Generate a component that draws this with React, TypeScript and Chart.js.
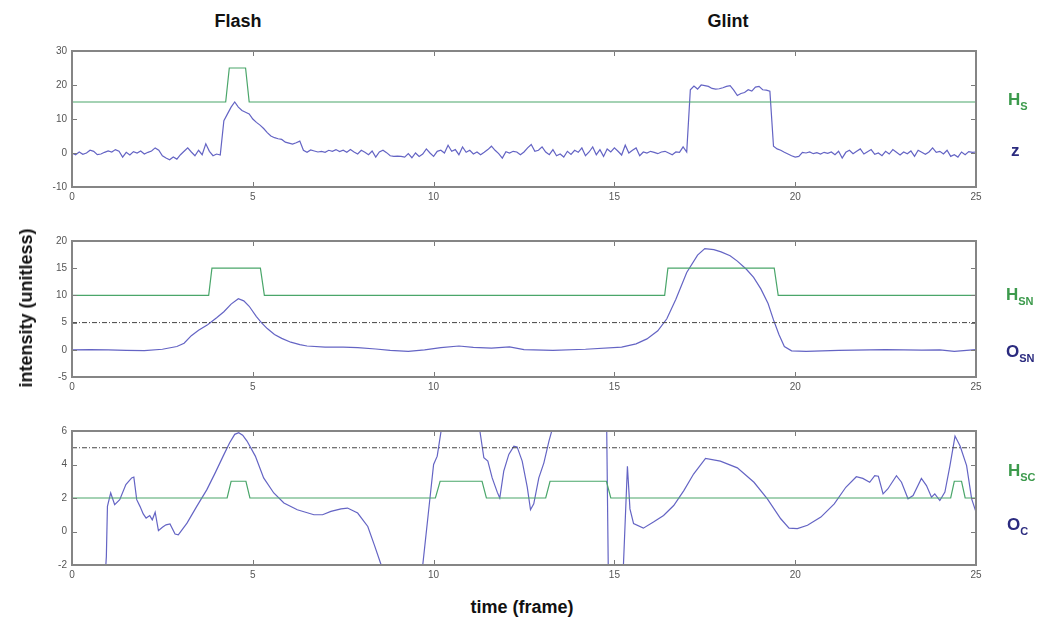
import React, { useEffect, useRef } from 'react';
import { Chart, registerables } from 'chart.js';

Chart.register(...registerables);

// ---------- data ----------
const X_MIN = 0;
const X_MAX = 25;
const X_STEP = 5;

// panel 1: z sampled every 0.1 frame from 0 to 25
const zStep = 0.1;
const zValues: number[] = [
  0, -0.5, 0.3, -0.4, 0, 0.8, 0.5, -0.5, -0.3, 0.2,
  0.6, 0.3, 1.0, 0.5, -1.2, 0.2, -0.6, 0.4, 0.0, 0.6,
  -0.3, 0.2, 0.6, 1.5, 0.8, -0.8, -1.5, -2.0, -1.2, -1.8,
  -0.5, 0.5, 1.5, 0.3, -0.8, 0.8, -0.5, 2.7, 0.5, -0.8,
  -0.3, -0.6, 9.5, 11.5, 13.5, 15.0, 13.5, 12.5, 12.0, 11.5,
  10.0, 9.0, 8.2, 7.2, 6.0, 5.0, 4.5, 4.2, 4.0, 3.2,
  2.9, 2.6, 3.0, 3.5, 0.8, 0.2, 0.9, 0.6, 0.3, 0.5,
  0.2, 0.8, 0.5, 1.0, 0.4, 0.8, 0.2, 1.0, 0.3, -0.3,
  0.8, 0.2, -0.5, 0.6, -1.2, 0.3, 0.8, 0.1, -0.8, -1.0,
  -0.9, -1.0, -1.2, -0.2, -1.4, 0.0, -1.0, -0.3, 1.2, 0.0,
  -1.0, 0.5, 0.8, 0.0, 2.3, 0.5, 1.0, -0.5, 1.8, 0.2,
  0.8, -0.3, 0.3, -0.5, 0.2, 1.0, 2.0, 0.8, -0.2, -1.5,
  0.4, 0.0, 0.5, 0.3, -0.5, 0.3, 1.5, 2.5, 0.5, 0.8,
  1.8, 0.3, -0.5, 1.0, -0.8, -0.3, -1.2, 0.5, -0.4, 0.8,
  0.2, 1.5, -0.8, 0.3, 1.8, -0.5, 1.0, -1.0, 1.2, 0.3,
  1.5, 0.5, -0.6, 2.3, 0.0, 0.8, 1.5, -0.8, 0.3, 0.0,
  0.5, 0.2, -0.2, 0.3, 0.5, 0.0, -0.5, 0.3, 0.2, 1.8,
  0.3, 18.6, 19.7, 18.8, 20.0, 19.8, 19.6, 19.0, 18.8, 18.9,
  19.2, 19.6, 19.8, 18.5, 16.9, 17.5, 17.8, 18.6, 18.2, 19.4,
  19.6, 18.6, 18.5, 18.2, 2.0, 1.2, 0.8, 0.2, -0.3, -0.8,
  -1.2, -1.0, 0.2, 0.0, 0.3, -0.2, 0.1, -0.3, 0.2, -0.1,
  0.3, -0.5, 0.5, -1.5, 0.2, 0.8, -0.2, 0.5, 1.2, -0.3,
  0.4, 1.0, -0.4, 0.0, -0.8, 0.5, -0.3, 1.0, 0.2, -0.6,
  0.3, -0.2, 0.6, -1.0, 0.8, 0.2, -0.4, 0.3, 1.5, 0.2,
  0.5, -0.3, 0.8, -1.0, -0.5, -1.2, 0.3, -0.5, 0.4, 0.2,
  0.3,
];

const hS: [number, number][] = [
  [0, 15], [4.25, 15], [4.35, 25], [4.8, 25], [4.9, 15], [25, 15],
];

// panel 2
const hSN: [number, number][] = [
  [0, 10], [3.78, 10], [3.87, 15], [5.21, 15], [5.32, 10],
  [16.39, 10], [16.48, 15], [19.42, 15], [19.53, 10], [25, 10],
];
const thresholdSN: [number, number][] = [[0, 5], [25, 5]];
const oSN: [number, number][] = [
  [0, 0], [0.5, 0.05], [1.0, 0], [1.5, -0.1], [2.0, -0.15], [2.5, 0.1], [2.9, 0.6],
  [3.1, 1.2], [3.3, 2.6], [3.5, 3.6], [3.75, 4.6], [4.0, 5.9], [4.2, 7.0], [4.4, 8.4],
  [4.6, 9.4], [4.75, 9.0], [4.9, 8.0], [5.1, 6.1], [5.25, 4.9], [5.4, 3.9], [5.6, 2.8],
  [5.8, 2.1], [6.05, 1.4], [6.3, 0.95], [6.5, 0.7], [7.0, 0.5], [7.5, 0.5], [7.9, 0.4],
  [8.4, 0.15], [8.8, -0.1], [9.3, -0.3], [9.75, 0], [10.2, 0.4], [10.7, 0.7], [11.1, 0.45],
  [11.6, 0.3], [12.1, 0.55], [12.5, 0.05], [13.3, -0.1], [14.2, 0.1], [15.2, 0.5],
  [15.6, 1.1], [15.9, 2.0], [16.2, 3.5], [16.45, 5.7], [16.7, 9.3], [17.0, 14.2],
  [17.3, 17.4], [17.5, 18.6], [17.75, 18.4], [17.95, 18.0], [18.2, 17.3], [18.4, 16.3],
  [18.65, 14.8], [18.85, 13.3], [19.05, 11.2], [19.25, 8.5], [19.4, 5.5], [19.55, 2.8],
  [19.7, 0.6], [19.9, -0.2], [20.3, -0.3], [21.2, -0.1], [22.5, 0.05], [23.5, -0.05],
  [24.0, 0.0], [24.4, -0.3], [25, 0.05],
];

// panel 3
const hSC: [number, number][] = [
  [0, 2], [4.29, 2], [4.4, 3], [4.81, 3], [4.92, 2], [10.05, 2], [10.18, 3],
  [11.34, 3], [11.46, 2], [13.1, 2], [13.22, 3], [14.78, 3], [14.9, 2],
  [24.3, 2], [24.4, 3], [24.6, 3], [24.7, 2], [25, 2],
];
const thresholdC: [number, number][] = [[0, 5], [25, 5]];
const oC: [number, number][] = [
  [0.88, -4], [0.95, -1.5], [0.98, 1.5], [1.07, 2.3], [1.18, 1.6], [1.32, 1.9],
  [1.49, 2.8], [1.65, 3.2], [1.71, 3.25], [1.79, 1.9], [1.88, 1.5], [1.97, 1.05],
  [2.05, 0.8], [2.15, 0.95], [2.22, 0.7], [2.3, 1.15], [2.39, 0.05], [2.5, 0.25],
  [2.6, 0.4], [2.71, 0.45], [2.85, -0.15], [2.94, -0.2], [3.18, 0.5], [3.45, 1.5],
  [3.73, 2.5], [3.96, 3.5], [4.18, 4.5], [4.36, 5.3], [4.5, 5.8], [4.61, 5.9],
  [4.72, 5.75], [4.84, 5.4], [5.07, 4.5], [5.3, 3.2], [5.58, 2.3], [5.86, 1.7],
  [6.23, 1.3], [6.69, 1.0], [6.93, 1.0], [7.16, 1.2], [7.44, 1.35], [7.62, 1.4],
  [7.9, 1.1], [8.18, 0.3], [8.36, -0.8], [8.55, -2.0], [8.75, -3.5], [9.4, -4.5],
  [9.65, -3.0], [9.7, -2.0], [9.85, 1.0], [10.0, 4.0], [10.1, 4.5], [10.2, 5.9],
  [10.3, 7.0], [10.8, 8.5], [11.2, 7.0], [11.28, 6.0], [11.39, 4.4], [11.5, 4.2],
  [11.62, 3.2], [11.76, 2.35], [11.83, 2.0], [11.94, 3.6], [12.08, 4.6], [12.22, 5.1],
  [12.31, 5.05], [12.45, 4.2], [12.59, 2.65], [12.68, 1.3], [12.77, 1.65], [12.91, 3.2],
  [13.05, 4.1], [13.19, 5.4], [13.28, 6.1], [13.5, 8], [14.3, 9], [14.78, 7.5],
  [14.84, -4], [15.2, -4.5], [15.25, -2], [15.36, 3.9], [15.43, 1.35], [15.53, 0.47],
  [15.8, 0.2], [16.08, 0.57], [16.36, 0.96], [16.64, 1.55], [16.92, 2.44], [17.19, 3.43],
  [17.52, 4.36], [17.93, 4.2], [18.4, 3.8], [18.86, 2.94], [19.23, 1.95], [19.6, 0.76],
  [19.83, 0.2], [20.06, 0.17], [20.34, 0.37], [20.71, 0.86], [21.08, 1.65], [21.4, 2.64],
  [21.69, 3.27], [21.87, 3.17], [22.06, 2.94], [22.2, 3.33], [22.3, 3.3], [22.43, 2.25],
  [22.56, 2.54], [22.8, 3.33], [22.94, 2.94], [23.12, 1.95], [23.26, 2.15], [23.49, 3.17],
  [23.63, 2.74], [23.77, 2.05], [23.86, 2.25], [24.0, 1.85], [24.14, 2.35], [24.28, 3.93],
  [24.42, 5.7], [24.56, 5.1], [24.74, 3.93], [24.88, 1.95], [25.0, 1.16],
];

// ---------- styles ----------
const BLUE = '#6464c4';
const GREEN = '#4aa66a';
const DASH = '#444444';
const LABEL_GREEN = '#3c9a4c';
const LABEL_NAVY = '#2b2b7f';
const FONT = "'Liberation Sans', Arial, Helvetica, sans-serif";

const toXY = (pairs: [number, number][]) => pairs.map(([x, y]) => ({ x, y }));

const line = (data: { x: number; y: number }[], color: string, dash?: number[]) => ({
  data,
  borderColor: color,
  backgroundColor: color,
  borderWidth: dash ? 1 : 1.2,
  borderDash: dash || [],
  pointRadius: 0,
  tension: 0,
  fill: false,
  clip: 0,
});

const framePlugin = {
  id: 'matlabFrame',
  afterDatasetsDraw(chart: any) {
    const { ctx, chartArea } = chart;
    const { left, right, top, bottom } = chartArea;
    const xs = chart.scales.x;
    const ys = chart.scales.y;
    ctx.save();
    ctx.strokeStyle = '#7a7a7a';
    ctx.lineWidth = 1;
    ctx.beginPath();
    xs.ticks.forEach((t: any) => {
      const px = Math.round(xs.getPixelForValue(t.value)) + 0.5;
      ctx.moveTo(px, bottom);
      ctx.lineTo(px, bottom - 5);
      ctx.moveTo(px, top);
      ctx.lineTo(px, top + 5);
    });
    ys.ticks.forEach((t: any) => {
      const py = Math.round(ys.getPixelForValue(t.value)) + 0.5;
      ctx.moveTo(left, py);
      ctx.lineTo(left + 5, py);
      ctx.moveTo(right, py);
      ctx.lineTo(right - 5, py);
    });
    ctx.stroke();
    ctx.strokeStyle = '#858585';
    ctx.lineWidth = 2;
    ctx.strokeRect(left, top, right - left, bottom - top);
    ctx.restore();
  },
};

type PanelProps = {
  top: number;
  height: number;
  plotHeight: number;
  yMin: number;
  yMax: number;
  yStep: number;
  datasets: any[];
};

function Panel({ top, height, plotHeight, yMin, yMax, yStep, datasets }: PanelProps) {
  const ref = useRef<HTMLCanvasElement>(null);
  useEffect(() => {
    const padTop = 10;
    const chart = new Chart(ref.current as HTMLCanvasElement, {
      type: 'line',
      data: { datasets },
      options: {
        animation: false,
        responsive: false,
        maintainAspectRatio: false,
        events: [],
        layout: { padding: { left: 0, right: 69, top: padTop, bottom: 0 } },
        plugins: { legend: { display: false }, tooltip: { enabled: false }, title: { display: false } },
        scales: {
          x: {
            type: 'linear',
            min: X_MIN,
            max: X_MAX,
            ticks: {
              stepSize: X_STEP,
              padding: 4,
              color: '#555',
              font: { family: FONT, size: 10 },
              maxRotation: 0,
            },
            grid: { display: false, drawTicks: false },
            border: { display: false },
            afterFit: (s: any) => {
              s.height = height - padTop - plotHeight;
            },
          },
          y: {
            type: 'linear',
            min: yMin,
            max: yMax,
            ticks: {
              stepSize: yStep,
              padding: 5,
              color: '#555',
              font: { family: FONT, size: 10 },
            },
            grid: { display: false, drawTicks: false },
            border: { display: false },
            afterFit: (s: any) => {
              s.width = 72;
            },
          },
        },
      } as any,
      plugins: [framePlugin],
    });
    return () => chart.destroy();
  }, []);
  return (
    <canvas
      ref={ref}
      width={1045}
      height={height}
      style={{ position: 'absolute', left: 0, top, width: 1045, height }}
    />
  );
}

const labelBase: React.CSSProperties = {
  position: 'absolute',
  fontFamily: FONT,
  fontWeight: 'bold',
  fontSize: 17,
  lineHeight: '17px',
  whiteSpace: 'nowrap',
};

function SideLabel({ left, top, main, sub, color }: { left: number; top: number; main: string; sub?: string; color: string }) {
  return (
    <div style={{ ...labelBase, left, top, color }}>
      {main}
      {sub ? (
        <span style={{ fontSize: 11, position: 'relative', top: 5 }}>{sub}</span>
      ) : null}
    </div>
  );
}

export default function App() {
  const zData = zValues.map((v, i) => ({ x: Math.round(i * zStep * 10) / 10, y: v }));

  const ds1 = [line(toXY(hS), GREEN), line(zData, BLUE)];
  const ds2 = [line(toXY(hSN), GREEN), line(toXY(thresholdSN), DASH, [5, 2, 1, 2]), line(toXY(oSN), BLUE)];
  const ds3 = [line(toXY(hSC), GREEN), line(toXY(thresholdC), DASH, [5, 2, 1, 2]), line(toXY(oC), BLUE)];

  return (
    <div style={{ position: 'absolute', left: 0, top: 0, width: 1045, height: 628, background: '#fff', overflow: 'hidden' }}>
      <Panel top={40} height={165} plotHeight={137} yMin={-10} yMax={30} yStep={10} datasets={ds1} />
      <Panel top={230} height={165} plotHeight={137} yMin={-5} yMax={20} yStep={5} datasets={ds2} />
      <Panel top={420} height={163} plotHeight={135} yMin={-2} yMax={6} yStep={2} datasets={ds3} />

      <div style={{ ...labelBase, fontSize: 18, lineHeight: '18px', left: 238, top: 12, transform: 'translateX(-50%)', color: '#111' }}>Flash</div>
      <div style={{ ...labelBase, fontSize: 18, lineHeight: '18px', left: 728, top: 12, transform: 'translateX(-50%)', color: '#111' }}>Glint</div>

      <div
        style={{
          ...labelBase,
          fontSize: 18,
          lineHeight: '18px',
          left: 26,
          top: 308,
          transform: 'translate(-50%, -50%) rotate(-90deg)',
          color: '#111',
        }}
      >
        intensity (unitless)
      </div>
      <div style={{ ...labelBase, fontSize: 18, lineHeight: '18px', left: 522, top: 598, transform: 'translateX(-50%)', color: '#111' }}>
        time (frame)
      </div>

      <SideLabel left={1008} top={91} main="H" sub="S" color={LABEL_GREEN} />
      <SideLabel left={1011} top={142} main="z" color={LABEL_NAVY} />
      <SideLabel left={1006} top={286} main="H" sub="SN" color={LABEL_GREEN} />
      <SideLabel left={1006} top={343} main="O" sub="SN" color={LABEL_NAVY} />
      <SideLabel left={1008} top={462} main="H" sub="SC" color={LABEL_GREEN} />
      <SideLabel left={1007} top={516} main="O" sub="C" color={LABEL_NAVY} />
    </div>
  );
}
